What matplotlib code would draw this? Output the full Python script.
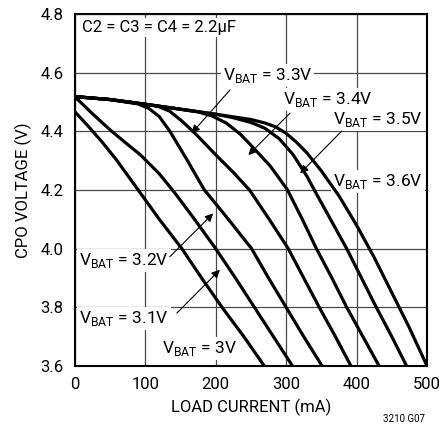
import matplotlib
matplotlib.use("Agg")
import matplotlib.pyplot as plt

plt.rcParams["font.family"] = ["Roboto", "DejaVu Sans"]
plt.rcParams["mathtext.fontset"] = "custom"
plt.rcParams["mathtext.rm"] = "Roboto"

## load current (mA) / CPO voltage (V) for each battery voltage
i_30 = [0, 20, 40, 60, 90, 120, 152, 180, 209, 240, 269]
v_30 = [4.467, 4.415, 4.36, 4.30, 4.20, 4.10, 4.00, 3.90, 3.80, 3.70, 3.60]

i_31 = [0, 25, 50, 75, 93, 120, 142, 170, 200, 228, 255, 282, 309]
v_31 = [4.518, 4.46, 4.405, 4.355, 4.32, 4.255, 4.19, 4.10, 4.00, 3.90, 3.80, 3.70, 3.60]

i_32 = [0, 50, 90, 105, 120, 135, 160, 184, 218, 251, 275, 300, 325, 351]
v_32 = [4.518, 4.508, 4.493, 4.478, 4.45, 4.40, 4.30, 4.20, 4.10, 4.00, 3.90, 3.80, 3.70, 3.60]

i_33 = [0, 50, 100, 118, 135, 152, 172, 200, 225, 248, 276, 303, 325, 347, 370, 392]
v_33 = [4.518, 4.508, 4.492, 4.485, 4.468, 4.435, 4.39, 4.32, 4.26, 4.20, 4.10, 4.00, 3.90, 3.80, 3.70, 3.60]

i_34 = [0, 50, 100, 150, 175, 195, 215, 235, 255, 278, 302, 323, 343, 365, 386, 409, 432]
v_34 = [4.518, 4.508, 4.492, 4.475, 4.466, 4.452, 4.428, 4.39, 4.34, 4.28, 4.20, 4.10, 4.00, 3.90, 3.80, 3.70, 3.60]

i_35 = [0, 50, 100, 150, 200, 225, 250, 270, 290, 310, 330, 340, 363, 386, 407, 428, 450, 471]
v_35 = [4.518, 4.508, 4.492, 4.475, 4.458, 4.446, 4.43, 4.41, 4.375, 4.32, 4.245, 4.20, 4.10, 4.00, 3.90, 3.80, 3.70, 3.60]

i_36 = [0, 50, 100, 150, 200, 250, 270, 285, 300, 315, 330, 350, 375, 400, 425, 450, 475, 500]
v_36 = [4.518, 4.508, 4.492, 4.475, 4.458, 4.440, 4.428, 4.415, 4.393, 4.362, 4.325, 4.265, 4.18, 4.08, 3.97, 3.85, 3.73, 3.60]

curves = [(i_30, v_30), (i_31, v_31), (i_32, v_32), (i_33, v_33),
          (i_34, v_34), (i_35, v_35), (i_36, v_36)]

x_ticks = [0, 100, 200, 300, 400, 500]
y_ticks = [3.6, 3.8, 4.0, 4.2, 4.4, 4.6, 4.8]

fig = plt.figure(figsize=(4.42, 4.34), dpi=100)
ax = fig.add_axes([0.169, 0.157, 0.797, 0.811])

for xs, ys in curves:
    ax.plot(xs, ys, color="black", lw=2.3, solid_joinstyle="round",
            solid_capstyle="butt", zorder=3)

ax.set_xlim(0, 500)
ax.set_ylim(3.6, 4.8)
ax.set_xticks(x_ticks)
ax.set_yticks(y_ticks)
ax.set_yticklabels([f"{v:.1f}" for v in y_ticks])
ax.grid(True, color="#4a4a4a", lw=0.9, zorder=0)
ax.set_axisbelow(True)
ax.tick_params(length=0, labelsize=12, pad=8)
for s in ax.spines.values():
    s.set_linewidth(1.5)
    s.set_color("black")

ax.set_xlabel("LOAD CURRENT (mA)", fontsize=12, labelpad=5)
ax.set_ylabel("CPO VOLTAGE (V)", fontsize=12, labelpad=6)

box = dict(facecolor="white", edgecolor="none", pad=1.5)
ax.text(0.021, 0.96, "C2 = C3 = C4 = 2.2\u00b5F", transform=ax.transAxes,
        fontsize=12, va="center", ha="left", bbox=box, zorder=2.5)

labels = [
    ("3.3V", 0.42, 0.824),
    ("3.4V", 0.592, 0.756),
    ("3.5V", 0.734, 0.699),
    ("3.6V", 0.734, 0.523),
    ("3.2V", 0.012, 0.300),
    ("3.1V", 0.012, 0.135),
    ("3V", 0.247, 0.049),
]
for v, fx, fy in labels:
    ax.text(fx, fy, r"V$_{\mathregular{BAT}}$ = " + v, transform=ax.transAxes,
            fontsize=12.5, va="center", ha="left", bbox=box, zorder=2.5)

## arrows: tail -> head in axes fraction
arrows = [
    ((0.441, 0.784), (0.332, 0.661)),
    ((0.611, 0.718), (0.493, 0.599)),
    ((0.758, 0.667), (0.640, 0.547)),
    ((0.270, 0.310), (0.393, 0.433)),
    ((0.290, 0.150), (0.412, 0.273)),
]
for tail, head in arrows:
    ax.annotate("", xy=head, xytext=tail, xycoords="axes fraction",
                textcoords="axes fraction", zorder=5,
                arrowprops=dict(arrowstyle="-|>", color="black", lw=0.8,
                                mutation_scale=12, shrinkA=0, shrinkB=0))

fig.text(0.962, 0.035, "3210 G07", fontsize=7, ha="right", va="center")

fig.savefig("out.png", dpi=100)
